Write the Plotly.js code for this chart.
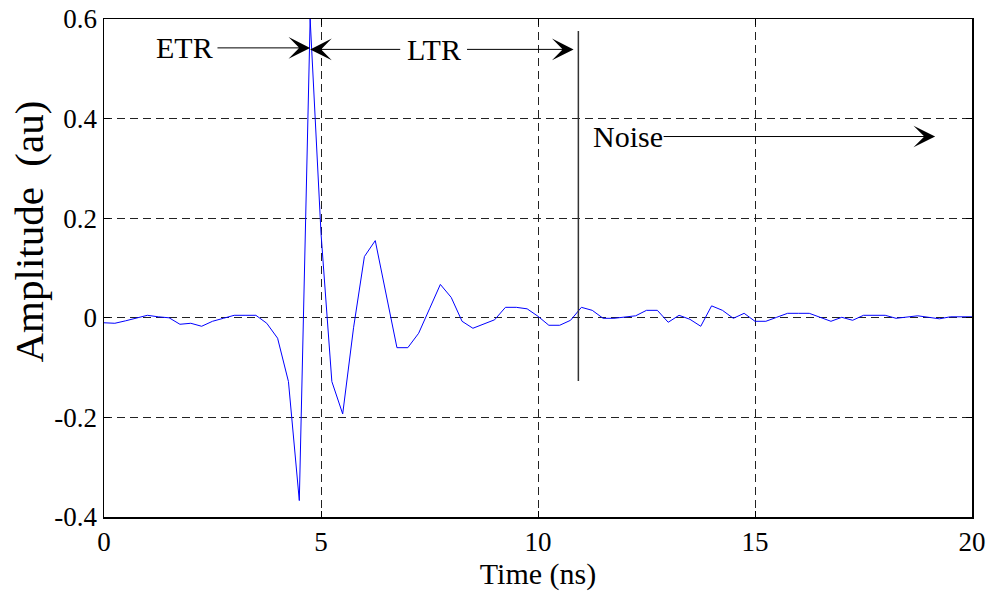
<!DOCTYPE html>
<html>
<head>
<meta charset="utf-8">
<script src="https://cdn.plot.ly/plotly-3.0.1.min.js"></script>
<style>html,body{margin:0;padding:0;background:#fff;}#chart{width:993px;height:597px;}</style>
</head>
<body>
<div id="chart"></div>
<script>
// Sample times (ns), step 0.25
var time = [];
for (var i = 0; i <= 80; i++) time.push(i * 0.25);

var amplitude = [
  -0.010, -0.011, -0.006, -0.001, 0.005, 0.002, 0.000, -0.013, -0.011, -0.017,
  -0.007, -0.001, 0.005, 0.005, 0.005, -0.011, -0.041, -0.128, -0.367, 0.600,
  0.170, -0.128, -0.193, -0.020, 0.123, 0.155, 0.050, -0.060, -0.060, -0.031,
  0.018, 0.067, 0.041, -0.007, -0.021, -0.013, -0.004, 0.021, 0.021, 0.018,
  0.003, -0.015, -0.015, -0.005, 0.021, 0.015, -0.001, -0.001, 0.001, 0.004,
  0.015, 0.015, -0.009, 0.005, -0.003, -0.017, 0.024, 0.015, -0.001, 0.009,
  -0.007, -0.007, 0.001, 0.009, 0.009, 0.009, 0.001, -0.007, 0.001, -0.005,
  0.005, 0.005, 0.005, -0.001, 0.002, 0.004, 0.001, -0.002, 0.002, 0.002,
  0.002
];

var xTicks = [0, 5, 10, 15, 20];
var yTicks = [-0.4, -0.2, 0, 0.2, 0.4, 0.6];
var yTickText = ['-0.4', '-0.2', '0', '0.2', '0.4', '0.6'];
var xTitle = 'Time (ns)';
var yTitle = 'Amplitude  (au)';

// Region labels and markers
var labelText = ['ETR', 'LTR', 'Noise'];
var labelX = [1.86, 7.6, 12.07];
var labelY = [0.542, 0.539, 0.364];
// arrows: tail -> head
var arrowTailX = [2.58, 6.86, 8.33, 12.86];
var arrowHeadX = [4.75, 4.75, 10.82, 19.15];
var arrowY = [0.542, 0.539, 0.539, 0.364];
var dividerX = 10.93;
var dividerY = [-0.127, 0.576];

var FONT = 'Liberation Serif, Times New Roman, serif';

var annotations = [];
for (var k = 0; k < labelText.length; k++) {
  annotations.push({
    x: labelX[k], y: labelY[k], xref: 'x', yref: 'y',
    text: labelText[k], showarrow: false,
    font: {family: FONT, size: 30, color: '#000'},
    xanchor: 'center', yanchor: 'middle'
  });
}
for (var a = 0; a < arrowHeadX.length; a++) {
  annotations.push({
    x: arrowHeadX[a], y: arrowY[a], ax: arrowTailX[a], ay: arrowY[a],
    xref: 'x', yref: 'y', axref: 'x', ayref: 'y',
    text: '', showarrow: true, arrowhead: 3, arrowsize: 3.6,
    arrowwidth: 1, arrowcolor: '#000', standoff: 0, startstandoff: 0
  });
}
// y-axis title (placed slightly above the plot centre as in the original)
annotations.push({
  xref: 'paper', yref: 'paper', x: -0.086, y: 0.574,
  xanchor: 'center', yanchor: 'middle', textangle: -90,
  text: yTitle, showarrow: false,
  font: {family: FONT, size: 41, color: '#000'}
});

var data = [{
  x: time, y: amplitude, type: 'scatter', mode: 'lines',
  line: {color: '#0000ff', width: 1}, hoverinfo: 'x+y'
}];

var layout = {
  width: 993, height: 597,
  margin: {l: 104, r: 21, t: 19, b: 80},
  paper_bgcolor: '#fff', plot_bgcolor: '#fff',
  showlegend: false,
  font: {family: FONT, color: '#000'},
  xaxis: {
    range: [0, 20], tickvals: xTicks, ticktext: xTicks.map(String),
    showgrid: true, gridcolor: '#222', griddash: '8px,5px', gridwidth: 1,
    zeroline: false, showline: true, linecolor: '#000', linewidth: 1.5, mirror: 'ticks',
    ticks: 'inside', ticklen: 6, tickcolor: '#000',
    tickfont: {family: FONT, size: 27, color: '#000'},
    title: {text: xTitle, font: {family: FONT, size: 30, color: '#000'}, standoff: 4}
  },
  yaxis: {
    range: [-0.4, 0.6], tickvals: yTicks, ticktext: yTickText,
    showgrid: true, gridcolor: '#222', griddash: '8px,5px', gridwidth: 1,
    zeroline: false, showline: true, linecolor: '#000', linewidth: 1.5, mirror: 'ticks',
    ticks: 'inside', ticklen: 6, tickcolor: '#000',
    tickfont: {family: FONT, size: 27, color: '#000'}
  },
  shapes: [{
    type: 'line', xref: 'x', yref: 'y',
    x0: dividerX, x1: dividerX, y0: dividerY[0], y1: dividerY[1],
    line: {color: '#333', width: 1.5}
  }],
  annotations: annotations
};

Plotly.newPlot('chart', data, layout, {displayModeBar: false, staticPlot: true});
</script>
</body>
</html>
